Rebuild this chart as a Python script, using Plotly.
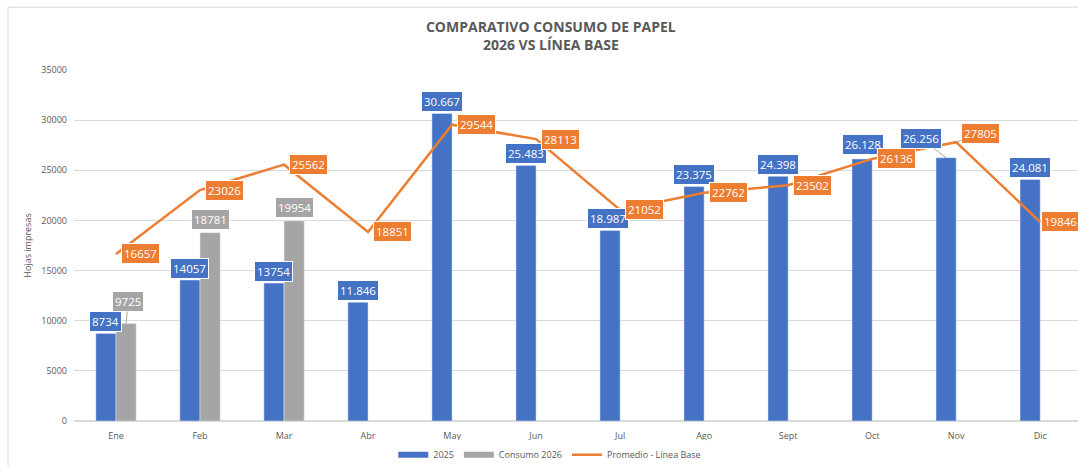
import plotly.graph_objects as go

meses = ["Ene", "Feb", "Mar", "Abr", "May", "Jun", "Jul", "Ago", "Sept", "Oct", "Nov", "Dic"]
valores_2025 = [8734, 14057, 13754, 11846, 30667, 25483, 18987, 23375, 24398, 26128, 26256, 24081]
etiquetas_2025 = ["8734", "14057", "13754", "11.846", "30.667", "25.483", "18.987", "23.375",
                  "24.398", "26.128", "26.256", "24.081"]
consumo_2026 = [9725, 18781, 19954, None, None, None, None, None, None, None, None, None]
promedio_base = [16657, 23026, 25562, 18851, 29544, 28113, 21052, 22762, 23502, 26136, 27805, 19846]

AZUL = "#4472C4"
GRIS = "#A5A5A5"
NARANJA = "#ED7D31"
TXT = "#595959"
FONT = "Open Sans"

BARGAP = 0.52
half = (1 - BARGAP) / 4  # center offset of each bar in a 2-bar group

fig = go.Figure()
fig.add_trace(go.Bar(x=meses, y=valores_2025, name="2025", marker_color=AZUL, showlegend=False))
fig.add_trace(go.Bar(x=meses, y=consumo_2026, name="Consumo 2026", marker_color=GRIS, showlegend=False))
fig.add_trace(go.Scatter(x=meses, y=promedio_base, name="Promedio - Línea Base", mode="lines",
                         line=dict(color=NARANJA, width=2.5), showlegend=False))
# legend entries (wide swatches like the original)
fig.add_trace(go.Scatter(x=[None], y=[None], name="2025", mode="lines",
                         line=dict(color=AZUL, width=6)))
fig.add_trace(go.Scatter(x=[None], y=[None], name="Consumo 2026", mode="lines",
                         line=dict(color=GRIS, width=6)))
fig.add_trace(go.Scatter(x=[None], y=[None], name="Promedio - Línea Base", mode="lines",
                         line=dict(color=NARANJA, width=2.5)))

# label offsets (pixels) : (dx, dy up, leader)
off_2025 = {9: (1, 14, False), 10: (-25, 19, True), 6: (-2, 12, False)}
off_2026 = {0: (2, 22, True)}
off_prom = {10: (24, 9, True), 11: (20, 0, False)}

def add_label(x, y, text, color, dx, dy, leader):
    common = dict(x=x, y=y, xref="x", yref="y", text=text,
                  font=dict(family=FONT, size=11.5, color="white"),
                  bgcolor=color, bordercolor="white", borderwidth=1, borderpad=2,
                  xanchor="center", yanchor="middle")
    if leader:
        fig.add_annotation(**common, showarrow=True, ax=dx, ay=-dy, arrowhead=0,
                           arrowwidth=1, arrowcolor="#A6A6A6", standoff=0)
    else:
        fig.add_annotation(**common, showarrow=False, xshift=dx, yshift=dy)

for i, (v, t) in enumerate(zip(valores_2025, etiquetas_2025)):
    dx, dy, ld = off_2025.get(i, (0, 12, False))
    add_label(i - half, v, t, AZUL, dx, dy, ld)
for i, v in enumerate(consumo_2026):
    if v is None:
        continue
    dx, dy, ld = off_2026.get(i, (0, 13, False))
    add_label(i + half, v, str(v), GRIS, dx, dy, ld)
for i, v in enumerate(promedio_base):
    dx, dy, ld = off_prom.get(i, (24, 0, False))
    add_label(i, v, str(v), NARANJA, dx, dy, ld)

# chart frame
fig.add_shape(type="rect", xref="paper", yref="paper", x0=-0.0657, x1=1.05, y0=-0.3, y1=1.179,
              line=dict(color="#D9D9D9", width=1), fillcolor="rgba(0,0,0,0)", layer="below")

fig.update_layout(
    width=1078, height=466,
    margin=dict(l=74, r=0, t=70, b=45),
    paper_bgcolor="white", plot_bgcolor="white",
    barmode="group", bargap=BARGAP, bargroupgap=0,
    title=dict(text="<b>COMPARATIVO CONSUMO DE PAPEL<br>2026 VS LÍNEA BASE</b>",
               x=0.511, xref="container", xanchor="center",
               y=0.932, yref="container", yanchor="top",
               font=dict(family=FONT, size=14, color=TXT)),
    font=dict(family=FONT, color=TXT),
    showlegend=True,
    legend=dict(orientation="h", x=0.51, xref="container", xanchor="center",
                y=0.024, yref="container", yanchor="middle",
                font=dict(family=FONT, size=9, color=TXT), itemwidth=30, tracegroupgap=0),
    xaxis=dict(type="category", range=[-0.5, 11.45], showgrid=False, showline=False,
               automargin=False, ticklabelstandoff=8,
               tickfont=dict(family=FONT, size=9, color=TXT), ticks=""),
    yaxis=dict(range=[0, 35000], dtick=5000, showgrid=True, gridcolor="#D9D9D9", gridwidth=1,
               zeroline=True, zerolinecolor="#D9D9D9", showline=False, automargin=False,
               tickfont=dict(family=FONT, size=9, color=TXT), ticklabelstandoff=6,
               tickformat="d",
               title=dict(text="Hojas impresas", font=dict(family=FONT, size=9, color=TXT),
                          standoff=8)),
)

fig.write_html("out.html", config={"displayModeBar": False},
               post_script="document.body.style.margin='0';")
